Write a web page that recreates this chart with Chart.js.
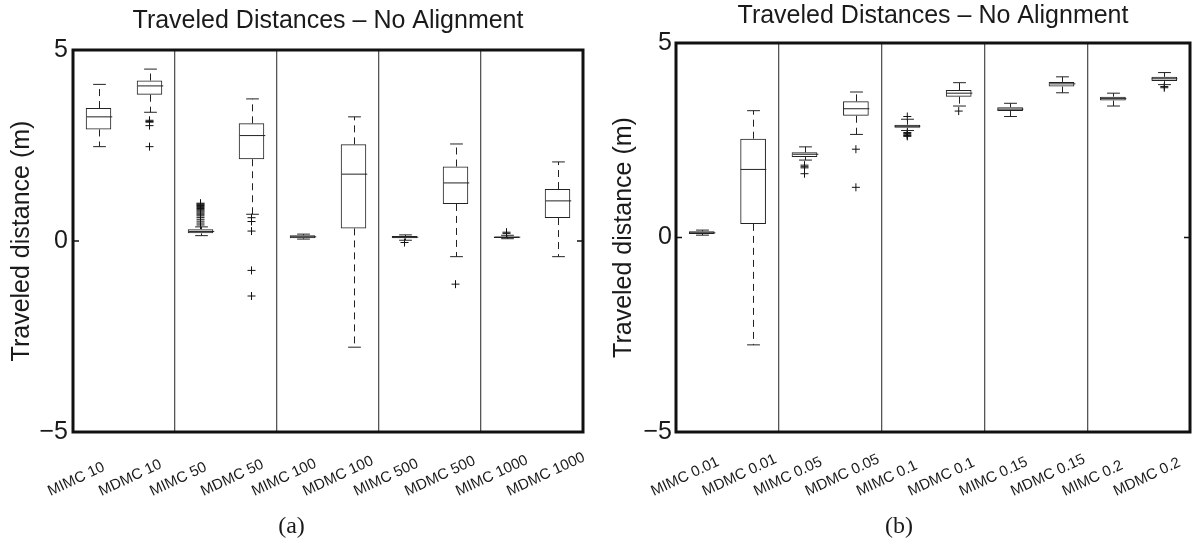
<!DOCTYPE html>
<html><head><meta charset="utf-8">
<script src="https://cdn.jsdelivr.net/npm/chart.js@4.4.1/dist/chart.umd.min.js"></script>
<style>
html,body{margin:0;padding:0;background:#fff;}
#wrap{position:relative;width:1195px;height:543px;overflow:hidden;background:#fff;}
canvas{position:absolute;top:0;}
#cA{left:0;} #cB{left:605px;}
</style></head><body>
<div id="wrap"><canvas id="cA" width="597" height="543"></canvas><canvas id="cB" width="590" height="543"></canvas></div>
<script>
const titleText = 'Traveled Distances \u2013 No Alignment';
const yAxisTitle = 'Traveled distance (m)';
const yTickValues = [-5, 0, 5];

// ---- Panel (a) ----
const labelsA = ['MIMC 10','MDMC 10','MIMC 50','MDMC 50','MIMC 100','MDMC 100','MIMC 500','MDMC 500','MIMC 1000','MDMC 1000'];
const minA    = [2.47, 3.37, 0.14, 0.70, 0.05, -2.78, 0.02, -0.41, 0.06, -0.41];
const q1A     = [2.92, 3.83, 0.20, 2.14, 0.07,  0.33, 0.07,  0.97, 0.08,  0.60];
const medA    = [3.25, 4.06, 0.25, 2.76, 0.11,  1.75, 0.10,  1.52, 0.10,  1.05];
const q3A     = [3.48, 4.20, 0.31, 3.08, 0.15,  2.53, 0.13,  1.95, 0.12,  1.36];
const maxA    = [4.10, 4.50, 0.37, 3.72, 0.18,  3.25, 0.16,  2.54, 0.15,  2.07];
const outA    = [
  [],
  [3.16, 3.13, 3.11, 3.02, 2.47],
  [0.42, 0.47, 0.52, 0.57, 0.62, 0.66, 0.70, 0.73, 0.76, 0.79, 0.82, 0.85, 0.88, 0.90, 0.93, 0.95, 0.97, 0.99],
  [0.61, 0.51, 0.26, -0.77, -1.44],
  [],
  [],
  [-0.04],
  [-1.13],
  [0.20, 0.23],
  []
];

// ---- Panel (b) ----
const labelsB = ['MIMC 0.01','MDMC 0.01','MIMC 0.05','MDMC 0.05','MIMC 0.1','MDMC 0.1','MIMC 0.15','MDMC 0.15','MIMC 0.2','MDMC 0.2'];
const minB    = [0.06, -2.76, 1.99, 2.65, 2.75, 3.38, 3.11, 3.72, 3.38, 3.93];
const q1B     = [0.09,  0.35, 2.07, 3.13, 2.82, 3.62, 3.25, 3.88, 3.52, 4.02];
const medB    = [0.12,  1.75, 2.14, 3.31, 2.86, 3.71, 3.30, 3.95, 3.57, 4.08];
const q3B     = [0.16,  2.54, 2.19, 3.50, 2.90, 3.79, 3.35, 4.00, 3.62, 4.13];
const maxB    = [0.19,  3.26, 2.33, 3.74, 3.04, 3.98, 3.45, 4.13, 3.71, 4.24];
const outB    = [
  [],
  [],
  [1.86, 1.82, 1.79, 1.64],
  [2.27, 1.29],
  [3.11, 2.70, 2.67, 2.64, 2.62, 2.60],
  [3.25],
  [],
  [],
  [],
  [3.88, 3.85]
];

const SANS = "'Liberation Sans', Arial, Helvetica, sans-serif";
const INK = '#1a1a1a';

const boxPlugin = {
  id: 'boxWhisk',
  afterDatasetsDraw(chart) {
    const st = chart.data.datasets[0].stats;
    const {ctx, chartArea: a, scales: {x, y}} = chart;
    const meta = chart.getDatasetMeta(0);
    const line = (x1, y1, x2, y2) => { ctx.beginPath(); ctx.moveTo(x1, y1); ctx.lineTo(x2, y2); ctx.stroke(); };
    ctx.save();
    ctx.strokeStyle = '#222';
    ctx.lineWidth = 1;
    st.med.forEach((m, i) => {
      const bar = meta.data[i];
      const cx = Math.round(bar.x) + 0.5;
      const hw = bar.width / 2;
      const yMed = y.getPixelForValue(m);
      const yQ1 = y.getPixelForValue(st.q1[i]);
      const yQ3 = y.getPixelForValue(st.q3[i]);
      const yMin = y.getPixelForValue(st.min[i]);
      const yMax = y.getPixelForValue(st.max[i]);
      ctx.setLineDash([7, 5]);
      line(cx, yQ3, cx, yMax);
      line(cx, yQ1, cx, yMin);
      ctx.setLineDash([]);
      line(cx - hw / 2, yMax, cx + hw / 2, yMax);
      line(cx - hw / 2, yMin, cx + hw / 2, yMin);
      line(cx - hw, yMed, cx + hw, yMed);
    });
    ctx.strokeStyle = '#111';
    ctx.lineWidth = 3;
    ctx.strokeRect(a.left, a.top, a.right - a.left, a.bottom - a.top);
    ctx.lineWidth = 1.5;
    y.ticks.forEach(t => {
      const py = y.getPixelForValue(t.value);
      line(a.left, py, a.left + 6, py);
      line(a.right - 6, py, a.right, py);
    });
    // category labels: rotated, anchored at their start, positioned from the x scale
    ctx.fillStyle = INK;
    ctx.font = '15px ' + SANS;
    ctx.textAlign = 'left';
    ctx.textBaseline = 'alphabetic';
    chart.data.labels.forEach((lab, i) => {
      const px = x.getPixelForValue(i);
      ctx.save();
      ctx.translate(px - 48, a.bottom + 64);
      ctx.rotate(-25 * Math.PI / 180);
      ctx.fillText(lab, 0, 0);
      ctx.restore();
    });
    ctx.restore();
  }
};

function makeChart(id, cfg) {
  const outlierPts = [];
  cfg.out.forEach((arr, i) => arr.forEach(v => outlierPts.push({x: cfg.labels[i], y: v})));
  return new Chart(document.getElementById(id), {
    type: 'bar',
    data: {
      labels: cfg.labels,
      datasets: [
        {
          type: 'bar',
          data: cfg.labels.map((_, i) => [cfg.q1[i], cfg.q3[i]]),
          stats: {min: cfg.min, q1: cfg.q1, med: cfg.med, q3: cfg.q3, max: cfg.max},
          backgroundColor: 'rgba(0,0,0,0)',
          borderColor: '#222',
          borderWidth: 1,
          borderSkipped: false,
          barPercentage: 0.5,
          categoryPercentage: 1.0,
          order: 2
        },
        {
          type: 'line',
          data: outlierPts,
          showLine: false,
          pointStyle: 'cross',
          pointRadius: 4,
          pointBorderWidth: 1,
          pointBorderColor: '#111',
          pointBackgroundColor: '#111',
          order: 1
        }
      ]
    },
    options: {
      responsive: false,
      animation: false,
      events: [],
      devicePixelRatio: 1,
      layout: {padding: {left: 0, right: cfg.padRight, top: 0, bottom: 0}},
      plugins: {
        legend: {display: false},
        tooltip: {enabled: false},
        title: {
          display: true, text: titleText, fullSize: false, color: INK,
          font: {family: SANS, size: 25, weight: 'normal'},
          padding: {top: cfg.titleTop, bottom: cfg.titleBottom}
        },
        subtitle: {
          display: true, text: cfg.caption, position: 'bottom', color: INK,
          font: {family: "'Liberation Serif', 'Times New Roman', serif", size: 24, weight: 'normal'},
          padding: {top: 0, bottom: 2}
        }
      },
      scales: {
        x: {
          type: 'category',
          offset: true,
          grid: {
            display: true, offset: true, drawTicks: false,
            color: ctx => (ctx.index % 2 === 0 && ctx.index > 0 && ctx.index < cfg.labels.length) ? '#555' : 'rgba(0,0,0,0)',
            lineWidth: 1.3
          },
          border: {display: false},
          ticks: {display: false, autoSkip: false},
          afterFit: s => { s.height = cfg.xHeight; }
        },
        y: {
          type: 'linear', min: -5, max: 5,
          afterBuildTicks: s => { s.ticks = yTickValues.map(v => ({value: v})); },
          grid: {display: false, drawTicks: false},
          border: {display: false},
          ticks: {
            padding: cfg.yPad, color: INK,
            font: {family: SANS, size: 25},
            callback: v => v < 0 ? '\u2212' + Math.abs(v) : String(v)
          },
          title: {
            display: true, text: yAxisTitle, color: INK,
            font: {family: SANS, size: 25, weight: 'normal'},
            padding: {top: cfg.yTitlePad, bottom: 0}
          },
          afterFit: s => { s.width = cfg.yWidth; }
        }
      }
    },
    plugins: [boxPlugin]
  });
}

makeChart('cA', {
  labels: labelsA, min: minA, q1: q1A, med: medA, q3: q3A, max: maxA, out: outA,
  caption: '(a)', padRight: 14, titleTop: 6.5, titleBottom: 13.5,
  xHeight: 80.2, yPad: 5, yWidth: 73, yTitlePad: 7
});
makeChart('cB', {
  labels: labelsB, min: minB, q1: q1B, med: medB, q3: q3B, max: maxB, out: outB,
  caption: '(b)', padRight: 2, titleTop: 1, titleBottom: 12,
  xHeight: 80.2, yPad: 4, yWidth: 71, yTitlePad: 4
});
</script>
</body></html>
